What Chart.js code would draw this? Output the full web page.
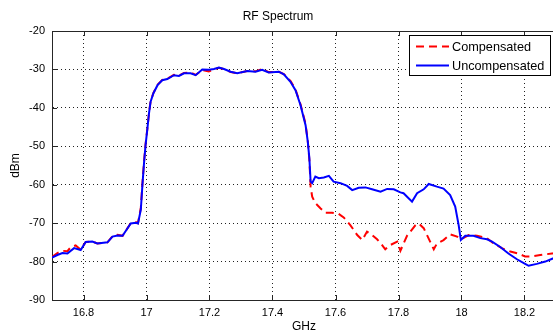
<!DOCTYPE html>
<html>
<head>
<meta charset="utf-8">
<script src="https://cdn.jsdelivr.net/npm/chart.js@4"></script>
<style>
  html, body { margin: 0; padding: 0; background: #fff; overflow: hidden; }
  #wrap { width: 557px; height: 336px; }
</style>
</head>
<body>
<div id="wrap"><canvas id="rf"></canvas></div>
<script>
// axis ticks
const freqTicks = [16.8, 17, 17.2, 17.4, 17.6, 17.8, 18, 18.2];
const dbmTicks = [-90, -80, -70, -60, -50, -40, -30, -20];

// Uncompensated trace (GHz, dBm)
const uncompGHz = [
    16.700, 16.717, 16.733, 16.749, 16.770, 16.791, 16.807, 16.828, 16.844, 16.876,
    16.892, 16.908, 16.924, 16.950, 16.966, 16.973, 16.982, 16.987, 16.992, 16.997,
    17.003, 17.008, 17.013, 17.022, 17.035, 17.050, 17.066, 17.087, 17.103, 17.119,
    17.140, 17.156, 17.177, 17.198, 17.214, 17.230, 17.246, 17.267, 17.288, 17.320,
    17.346, 17.367, 17.388, 17.420, 17.436, 17.457, 17.473, 17.489, 17.505, 17.512,
    17.517, 17.521, 17.526, 17.536, 17.547, 17.563, 17.579, 17.594, 17.616, 17.637,
    17.653, 17.674, 17.695, 17.716, 17.743, 17.764, 17.785, 17.806, 17.816, 17.843,
    17.859, 17.880, 17.896, 17.922, 17.943, 17.964, 17.980, 17.991, 17.998, 18.012,
    18.038, 18.060, 18.081, 18.097, 18.123, 18.149, 18.176, 18.202, 18.213, 18.239,
    18.266, 18.290, 18.300
];
const uncompDbm = [
    -79.0, -78.3, -77.8, -77.9, -76.5, -77.0, -74.9, -74.8, -75.3, -75.0,
    -73.5, -73.2, -73.3, -70.1, -69.9, -70.1, -66.5, -60.1, -54.5, -49.7,
    -45.3, -41.4, -38.4, -36.2, -34.1, -32.8, -32.5, -31.5, -31.7, -31.0,
    -31.0, -31.5, -30.0, -30.1, -29.9, -29.5, -29.9, -30.6, -31.0, -30.4,
    -30.6, -30.1, -30.8, -30.6, -31.3, -33.2, -35.4, -39.3, -44.5, -48.8,
    -53.1, -59.2, -59.6, -57.9, -58.3, -58.1, -57.7, -59.2, -59.6, -60.3,
    -61.4, -60.8, -60.7, -61.2, -61.8, -61.1, -61.2, -62.0, -62.2, -64.4,
    -62.2, -61.2, -59.8, -60.5, -61.0, -62.7, -65.7, -70.5, -74.4, -73.3,
    -73.3, -73.9, -74.2, -74.8, -76.2, -77.9, -79.4, -80.6, -81.1, -80.6,
    -80.0, -79.2, -78.8
];

// Compensated trace (GHz, dBm)
const compGHz = [
    16.700, 16.717, 16.733, 16.749, 16.760, 16.775, 16.791, 16.807, 16.828, 16.844,
    16.876, 16.892, 16.908, 16.924, 16.950, 16.966, 16.973, 16.982, 16.987, 16.992,
    16.997, 17.003, 17.008, 17.013, 17.022, 17.035, 17.050, 17.066, 17.087, 17.103,
    17.119, 17.140, 17.156, 17.177, 17.198, 17.214, 17.230, 17.246, 17.267, 17.288,
    17.320, 17.346, 17.367, 17.388, 17.420, 17.436, 17.457, 17.473, 17.489, 17.505,
    17.512, 17.517, 17.521, 17.526, 17.536, 17.552, 17.568, 17.589, 17.610, 17.626,
    17.647, 17.669, 17.685, 17.700, 17.716, 17.732, 17.748, 17.758, 17.774, 17.796,
    17.806, 17.827, 17.854, 17.864, 17.880, 17.912, 17.922, 17.943, 17.964, 17.986,
    17.998, 18.023, 18.049, 18.081, 18.102, 18.128, 18.155, 18.181, 18.202, 18.218,
    18.250, 18.287, 18.300
];
const compDbm = [
    -78.8, -77.8, -77.2, -77.3, -76.2, -75.8, -76.9, -74.9, -74.8, -75.3,
    -75.0, -73.4, -73.0, -73.3, -70.0, -69.7, -70.0, -66.0, -59.8, -54.2,
    -49.5, -45.2, -41.3, -38.3, -36.1, -34.0, -32.7, -32.4, -31.4, -31.6,
    -30.9, -30.8, -31.4, -30.2, -30.5, -30.0, -29.6, -29.9, -30.7, -31.0,
    -30.4, -30.5, -29.9, -30.7, -30.6, -31.2, -33.0, -35.2, -39.1, -44.2,
    -48.6, -53.5, -60.5, -63.1, -64.8, -66.1, -67.3, -67.3, -67.6, -68.5,
    -70.5, -73.1, -74.4, -72.2, -73.1, -74.2, -75.7, -76.8, -75.7, -74.8,
    -77.2, -73.3, -70.5, -70.1, -71.3, -76.8, -75.3, -74.4, -72.9, -73.5,
    -74.2, -73.1, -73.3, -73.9, -75.3, -76.5, -77.4, -77.9, -78.7, -78.7,
    -78.3, -77.9, -77.8
];

const fontFamily = '"Liberation Sans", Arial, Helvetica, sans-serif';

function toPoints(xs, ys) {
    return xs.map((x, i) => ({ x: x, y: ys[i] }));
}

// solid top frame and small inward ticks, like the original axes box
const axesFrame = {
    id: 'axesFrame',
    afterDatasetsDraw(chart) {
        const { ctx, chartArea: a, scales } = chart;
        ctx.save();
        ctx.strokeStyle = '#262626';
        ctx.lineWidth = 1;
        ctx.beginPath();
        ctx.moveTo(a.left, Math.round(a.top) + 0.5);
        ctx.lineTo(a.right, Math.round(a.top) + 0.5);
        freqTicks.forEach(v => {
            const px = Math.round(scales.x.getPixelForValue(v)) + 0.5;
            ctx.moveTo(px, a.bottom);
            ctx.lineTo(px, a.bottom - 5);
            ctx.moveTo(px, a.top);
            ctx.lineTo(px, a.top + 5);
        });
        dbmTicks.forEach(v => {
            const py = Math.round(scales.y.getPixelForValue(v)) + 0.5;
            ctx.moveTo(a.left, py);
            ctx.lineTo(a.left + 5, py);
        });
        ctx.stroke();
        ctx.restore();
    }
};

// boxed legend in the top right corner of the plot
const legendBox = {
    id: 'legendBox',
    afterDraw(chart) {
        const ctx = chart.ctx;
        const x = 409.5, y = 35.5, w = 141, h = 40;
        ctx.save();
        ctx.fillStyle = '#fff';
        ctx.fillRect(x, y, w, h);
        ctx.strokeStyle = '#000';
        ctx.lineWidth = 1;
        ctx.strokeRect(x, y, w, h);
        ctx.font = '12.7px ' + fontFamily;
        ctx.textBaseline = 'middle';
        chart.data.datasets.forEach((ds, i) => {
            const ly = 46.5 + i * 19;
            ctx.strokeStyle = ds.borderColor;
            ctx.lineWidth = 2;
            ctx.setLineDash(ds.borderDash || []);
            ctx.beginPath();
            ctx.moveTo(416, ly);
            ctx.lineTo(449, ly);
            ctx.stroke();
            ctx.setLineDash([]);
            ctx.fillStyle = '#000';
            ctx.fillText(ds.label, 452, ly + 0.5);
        });
        ctx.restore();
    }
};

new Chart(document.getElementById('rf'), {
    type: 'line',
    data: {
        datasets: [{
            label: 'Compensated',
            data: toPoints(compGHz, compDbm),
            borderColor: '#ff0000',
            borderWidth: 2,
            borderDash: [8, 5],
            pointRadius: 0,
            tension: 0,
            order: 1
        }, {
            label: 'Uncompensated',
            data: toPoints(uncompGHz, uncompDbm),
            borderColor: '#0000ff',
            borderWidth: 2,
            pointRadius: 0,
            tension: 0,
            order: 0
        }]
    },
    options: {
        responsive: true,
        maintainAspectRatio: false,
        animation: false,
        layout: { padding: { left: 0, right: 1, top: 0, bottom: 0 } },
        plugins: {
            legend: { display: false },
            tooltip: { enabled: false },
            title: {
                display: true,
                text: 'RF Spectrum',
                color: '#000',
                font: { family: fontFamily, size: 12, weight: 'normal' },
                padding: { top: 9, bottom: 7.6 }
            }
        },
        scales: {
            x: {
                type: 'linear',
                min: 16.7,
                max: 18.3,
                afterBuildTicks: function(scale) {
                    scale.ticks = freqTicks.map(v => ({ value: v }));
                },
                afterFit: function(scale) {
                    scale.height = 36;
                },
                ticks: {
                    color: '#000',
                    padding: 6,
                    maxRotation: 0,
                    font: { family: fontFamily, size: 11 },
                    callback: function(value) {
                        return String(value);
                    }
                },
                grid: { color: '#222', lineWidth: 1, drawTicks: false },
                border: { display: true, color: '#262626', width: 1, dash: [1, 3] },
                title: {
                    display: true,
                    text: 'GHz',
                    color: '#000',
                    font: { family: fontFamily, size: 12 },
                    padding: { top: 0, bottom: 2 }
                }
            },
            y: {
                type: 'linear',
                min: -90,
                max: -20,
                afterBuildTicks: function(scale) {
                    scale.ticks = dbmTicks.map(v => ({ value: v }));
                },
                afterFit: function(scale) {
                    scale.width = 52;
                },
                ticks: {
                    color: '#000',
                    padding: 7,
                    font: { family: fontFamily, size: 11 }
                },
                grid: { color: '#222', lineWidth: 1, drawTicks: false },
                border: { display: true, color: '#262626', width: 1, dash: [1, 3] },
                title: {
                    display: true,
                    text: 'dBm',
                    color: '#000',
                    font: { family: fontFamily, size: 12 },
                    padding: { top: 8, bottom: 0 }
                }
            }
        }
    },
    plugins: [axesFrame, legendBox]
});
</script>
</body>
</html>
